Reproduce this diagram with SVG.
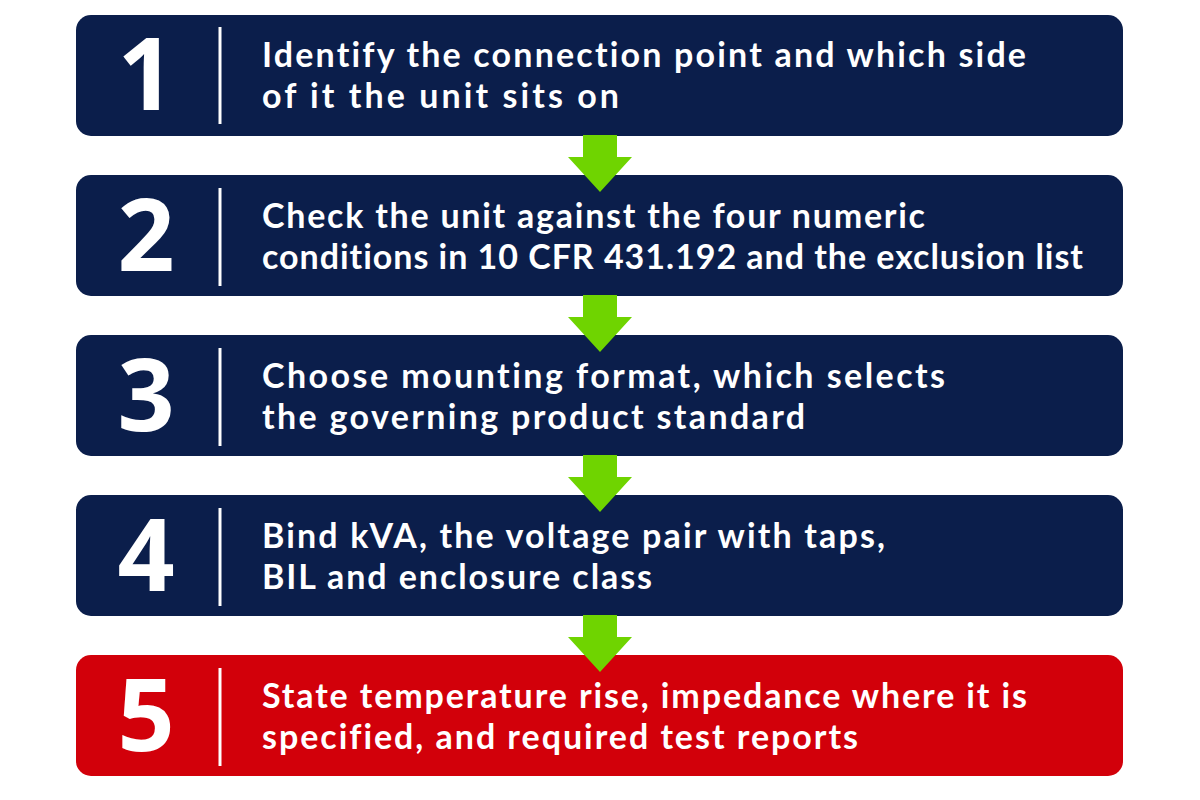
<svg xmlns="http://www.w3.org/2000/svg" width="1200" height="800" viewBox="0 0 1200 800">
<style>
.box{fill:#0b1e4b}
.box.red{fill:#d2000a}
.num{font-family:"Open Sans","Liberation Sans",sans-serif;font-weight:700;font-size:100px;fill:#ffffff;text-anchor:middle}
.div{stroke:#ffffff;stroke-width:3}
.txt{font-family:Lato,"Open Sans","Liberation Sans",sans-serif;font-weight:700;font-size:34px;fill:#ffffff;font-variant-ligatures:none}
.arrow{fill:#6fd400}
</style>
<rect width="1200" height="800" fill="#ffffff"/>
<g id="step1">
<rect class="box" x="76" y="15" width="1047" height="121" rx="15"/>
<text class="num" x="146" y="110">1</text>
<line class="div" x1="220" y1="27" x2="220" y2="124"/>
<text class="txt" x="262" y="67" textLength="764" lengthAdjust="spacing">Identify the connection point and which side</text>
<text class="txt" x="262" y="108" textLength="357" lengthAdjust="spacing">of it the unit sits on</text>
</g>
<g id="step2">
<rect class="box" x="76" y="175" width="1047" height="121" rx="15"/>
<text class="num" x="146" y="271">2</text>
<line class="div" x1="220" y1="188" x2="220" y2="286"/>
<text class="txt" x="262" y="228" textLength="663" lengthAdjust="spacing">Check the unit against the four numeric</text>
<text class="txt" x="262" y="269" textLength="821" lengthAdjust="spacing">conditions in 10 CFR 431.192 and the exclusion list</text>
</g>
<g id="step3">
<rect class="box" x="76" y="335" width="1047" height="121" rx="15"/>
<text class="num" x="146" y="431">3</text>
<line class="div" x1="220" y1="348" x2="220" y2="446"/>
<text class="txt" x="262" y="388" textLength="683" lengthAdjust="spacing">Choose mounting format, which selects</text>
<text class="txt" x="262" y="429" textLength="543" lengthAdjust="spacing">the governing product standard</text>
</g>
<g id="step4">
<rect class="box" x="76" y="495" width="1047" height="121" rx="15"/>
<text class="num" x="146" y="591">4</text>
<line class="div" x1="220" y1="508" x2="220" y2="606"/>
<text class="txt" x="262" y="548" textLength="623" lengthAdjust="spacing">Bind kVA, the voltage pair with taps,</text>
<text class="txt" x="262" y="589" textLength="390" lengthAdjust="spacing">BIL and enclosure class</text>
</g>
<g id="step5">
<rect class="box red" x="76" y="655" width="1047" height="121" rx="15"/>
<text class="num" x="146" y="751">5</text>
<line class="div" x1="220" y1="668" x2="220" y2="766"/>
<text class="txt" x="262" y="708" textLength="765" lengthAdjust="spacing">State temperature rise, impedance where it is</text>
<text class="txt" x="262" y="749" textLength="596" lengthAdjust="spacing">specified, and required test reports</text>
</g>
<g id="connectors">
<polygon class="arrow" points="583,135 617,135 617,157 632,157 600,192 568,157 583,157"/>
<polygon class="arrow" points="583,295 617,295 617,317 632,317 600,352 568,317 583,317"/>
<polygon class="arrow" points="583,455 617,455 617,477 632,477 600,512 568,477 583,477"/>
<polygon class="arrow" points="583,615 617,615 617,637 632,637 600,672 568,637 583,637"/>
</g>
</svg>
